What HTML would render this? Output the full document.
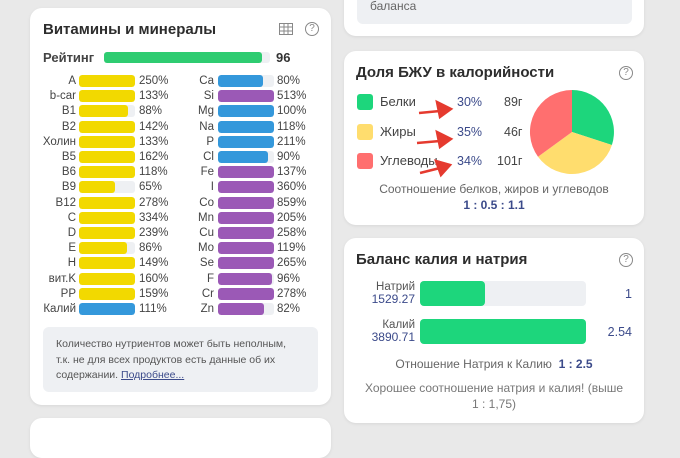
<!DOCTYPE html><html><head><meta charset="utf-8"><style>
*{box-sizing:border-box;margin:0;padding:0}
html,body{width:680px;height:431px}
body{background:#e9e9e9;font-family:"Liberation Sans","DejaVu Sans",sans-serif;position:relative;overflow:hidden;color:#333}
.card{position:absolute;background:#fff;border-radius:12px;box-shadow:0 1px 3px rgba(0,0,0,.08)}
.a{position:absolute;white-space:nowrap;line-height:14px}
.t{font-size:15px;font-weight:bold;color:#2d2d2d;line-height:18px}
.lab{font-size:11.5px;color:#444;text-align:right;width:60px}
.pct{font-size:11.5px;color:#444}
.bar{position:absolute;height:12px;width:56px;background:#eef0f3;border-radius:3px;overflow:hidden}
.bar i{display:block;height:100%;border-radius:3px}
.y{background:#f2d900}.b{background:#3498db}.p{background:#9b59b6}
.q{position:absolute;width:14px;height:14px;border:1.3px solid #888;border-radius:50%;font-size:10px;color:#888;text-align:center;line-height:12px}
</style></head><body>
<div class="card" style="left:30px;top:8px;width:301px;height:397px"></div>
<div class="card" style="left:30px;top:418px;width:301px;height:40px"></div>
<div class="card" style="left:344px;top:-20px;width:300px;height:56px"></div>
<div class="a" style="left:357px;top:-10px;width:275px;height:34px;background:#eef0f3;border-radius:6px"></div>
<div class="a" style="left:370px;top:-1px;font-size:12px;color:#666">баланса</div>
<div class="card" style="left:344px;top:51px;width:300px;height:174px"></div>
<div class="card" style="left:344px;top:238px;width:300px;height:185px"></div>

<div class="a t" style="left:43px;top:21px">Витамины и минералы</div>
<svg class="a" style="left:279px;top:23px" width="14" height="12"><rect x="0.5" y="0.5" width="13" height="11" fill="none" stroke="#888"/><path d="M0 4H14M0 8H14M5 0V12M9 0V12" stroke="#888"/></svg>
<div class="q" style="left:305px;top:22px">?</div>
<div class="a" style="left:43px;top:51px;font-size:13px;font-weight:bold;color:#444">Рейтинг</div>
<div class="a" style="left:104px;top:52px;width:166px;height:11px;background:#eef0f3;border-radius:3px"><div style="width:158px;height:11px;background:#2ecc71;border-radius:3px"></div></div>
<div class="a" style="left:276px;top:51px;font-size:13px;font-weight:bold;color:#333">96</div>

<div id="rows"></div>
<script>
var L=[["A",100,"250%"],["b-car",100,"133%"],["B1",88,"88%"],["B2",100,"142%"],["Холин",100,"133%"],["B5",100,"162%"],["B6",100,"118%"],["B9",65,"65%"],["B12",100,"278%"],["C",100,"334%"],["D",100,"239%"],["E",86,"86%"],["H",100,"149%"],["вит.K",100,"160%"],["PP",100,"159%"],["Калий",100,"111%"]];
var R=[["Ca",80,"80%","b"],["Si",100,"513%","p"],["Mg",100,"100%","b"],["Na",100,"118%","b"],["P",100,"211%","b"],["Cl",90,"90%","b"],["Fe",100,"137%","p"],["I",100,"360%","p"],["Co",100,"859%","p"],["Mn",100,"205%","p"],["Cu",100,"258%","p"],["Mo",100,"119%","p"],["Se",100,"265%","p"],["F",96,"96%","p"],["Cr",100,"278%","p"],["Zn",82,"82%","p"]];
var h="";
for(var i=0;i<16;i++){var y=81+i*15.2;
var l=L[i],c=i==15?"b":"y";
h+='<div class="a lab" style="left:16px;top:'+(y-7)+'px">'+l[0]+'</div><div class="bar" style="left:79px;top:'+(y-6)+'px"><i class="'+c+'" style="width:'+l[1]+'%"></i></div><div class="a pct" style="left:139px;top:'+(y-7)+'px">'+l[2]+'</div>';
var r=R[i];
h+='<div class="a lab" style="left:154px;top:'+(y-7)+'px">'+r[0]+'</div><div class="bar" style="left:218px;top:'+(y-6)+'px"><i class="'+r[3]+'" style="width:'+r[1]+'%"></i></div><div class="a pct" style="left:277px;top:'+(y-7)+'px">'+r[2]+'</div>';}
document.getElementById("rows").innerHTML=h;
</script>
<div class="a" style="left:43px;top:327px;width:275px;height:65px;background:#eef0f3;border-radius:6px"></div>
<div class="a" style="left:56px;top:337px;font-size:10.5px;line-height:15.5px;color:#555">Количество нутриентов может быть неполным,<br>т.к. не для всех продуктов есть данные об их<br>содержании. <u style="color:#3b4a8a">Подробнее...</u></div>

<div class="a t" style="left:356px;top:64px">Доля БЖУ в калорийности</div>
<div class="q" style="left:619px;top:66px">?</div>
<div class="a" style="left:357px;top:94px;width:16px;height:16px;background:#1dd67c;border-radius:3px"></div>
<div class="a" style="left:357px;top:124px;width:16px;height:16px;background:#ffdd6e;border-radius:3px"></div>
<div class="a" style="left:357px;top:153px;width:16px;height:16px;background:#ff6f6f;border-radius:3px"></div>
<div class="a" style="left:380px;top:95px;font-size:13px;color:#444">Белки</div>
<div class="a" style="left:380px;top:125px;font-size:13px;color:#444">Жиры</div>
<div class="a" style="left:380px;top:154px;font-size:13px;color:#444">Углеводы</div>
<div class="a" style="left:457px;top:95px;font-size:12.5px;color:#3b4a8a">30%</div>
<div class="a" style="left:457px;top:125px;font-size:12.5px;color:#3b4a8a">35%</div>
<div class="a" style="left:457px;top:154px;font-size:12.5px;color:#3b4a8a">34%</div>
<div class="a" style="left:504px;top:95px;font-size:12.5px;color:#444">89г</div>
<div class="a" style="left:504px;top:125px;font-size:12.5px;color:#444">46г</div>
<div class="a" style="left:497px;top:154px;font-size:12.5px;color:#444">101г</div>
<svg class="a" style="left:415px;top:95px" width="40" height="90"><g fill="#e53a2f" stroke="#e53a2f" stroke-width="2.5"><path d="M4 18L25 16"/><path d="M36 14L22 7L25 22Z"/><path d="M2 48L25 46"/><path d="M36 44L22 37L25 52Z"/><path d="M5 78L25 73"/><path d="M35 70L21 66L26 80Z"/></g></svg>
<svg class="a" style="left:529px;top:89px" width="86" height="86"><g transform="translate(43,43)">
<path d="M0 0L0 -42A42 42 0 0 1 39.9 13Z" fill="#1dd67c"/>
<path d="M0 0L39.9 13A42 42 0 0 1 -34 24.7Z" fill="#ffdd6e"/>
<path d="M0 0L-34 24.7A42 42 0 0 1 0 -42Z" fill="#ff6f6f"/></g></svg>
<div class="a" style="left:344px;width:300px;text-align:center;top:182px;font-size:12px;color:#666">Соотношение белков, жиров и углеводов</div>
<div class="a" style="left:344px;width:300px;text-align:center;top:198px;font-size:12px;color:#3b4a8a;font-weight:bold">1 : 0.5 : 1.1</div>

<div class="a t" style="left:356px;top:251px">Баланс калия и натрия</div>
<div class="q" style="left:619px;top:253px">?</div>
<div class="a" style="left:355px;top:281px;width:60px;text-align:right;font-size:11.5px;line-height:12px;color:#555">Натрий<br><span style="color:#3b4a8a;font-size:12px">1529.27</span></div>
<div class="a" style="left:355px;top:319px;width:60px;text-align:right;font-size:11.5px;line-height:12px;color:#555">Калий<br><span style="color:#3b4a8a;font-size:12px">3890.71</span></div>
<div class="a" style="left:420px;top:281px;width:166px;height:25px;background:#eef0f3;border-radius:4px"><div style="width:65px;height:25px;background:#1dd67c;border-radius:4px"></div></div>
<div class="a" style="left:420px;top:319px;width:166px;height:25px;background:#1dd67c;border-radius:4px"></div>
<div class="a" style="left:600px;width:32px;text-align:right;top:287px;font-size:12.5px;color:#3b4a8a">1</div>
<div class="a" style="left:592px;width:40px;text-align:right;top:325px;font-size:12.5px;color:#3b4a8a">2.54</div>
<div class="a" style="left:344px;width:300px;text-align:center;top:357px;font-size:12px;color:#666">Отношение Натрия к Калию &nbsp;<b style="color:#3b4a8a">1 : 2.5</b></div>
<div class="a" style="left:344px;width:300px;text-align:center;top:380px;font-size:12px;line-height:16px;color:#777">Хорошее соотношение натрия и калия! (выше<br>1 : 1,75)</div>
</body></html>
